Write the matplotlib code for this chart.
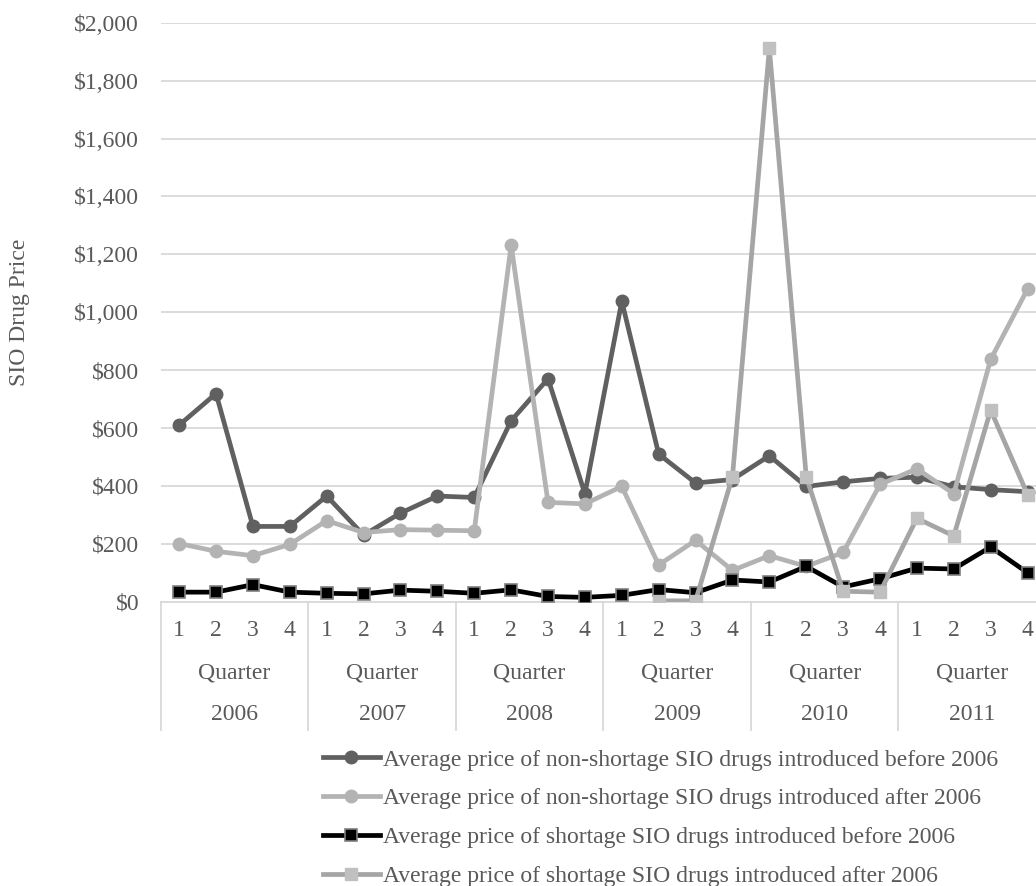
import matplotlib
matplotlib.use("Agg")
import matplotlib.pyplot as plt
from matplotlib.ticker import FuncFormatter, MultipleLocator
from matplotlib.transforms import blended_transform_factory
import numpy as np

years = ["2006", "2007", "2008", "2009", "2010", "2011"]
quarters = ["1", "2", "3", "4"]
level2_label = "Quarter"

nonshort_before = [610, 719, 260, 260, 365, 230, 306, 365, 360, 625, 770, 373,
                   1038, 510, 410, 422, 504, 398, 414, 426, 430, 397, 387, 380]
nonshort_after = [201, 174, 159, 198, 280, 239, 249, 247, 245, 1232, 343, 338,
                  398, 127, 212, 108, 159, 122, 170, 405, 459, 373, 837, 1080]
short_before = [33, 33, 59, 33, 29, 27, 40, 36, 29, 41, 18, 15,
                22, 42, 31, 75, 68, 122, 51, 79, 116, 113, 189, 100]
short_after = [None] * 13 + [3, 3, 432, 1911, 432, 36, 33, 288, 227, 662, 370]

labels = [
    "Average price of non-shortage SIO drugs introduced before 2006",
    "Average price of non-shortage SIO drugs introduced after 2006",
    "Average price of shortage SIO drugs introduced before 2006",
    "Average price of shortage SIO drugs introduced after 2006",
]

W, H = 1036, 886
fig = plt.figure(figsize=(W / 100, H / 100), dpi=100)
plt.rcParams['font.family'] = ['Liberation Serif', 'DejaVu Serif']
txt_color = "#595959"
fs = 17

left, right, top, bottom = 160.7, 1046.0, 22.7, 601.7
ax = fig.add_axes([left / W, 1 - bottom / H, (right - left) / W, (bottom - top) / H])

x = np.arange(len(nonshort_before))

def arr(v):
    return np.array([np.nan if a is None else a for a in v], dtype=float)

lw = 3.4
ax.plot(x, arr(nonshort_before), color="#606060", lw=lw, marker="o", ms=9,
        mfc="#606060", mec="#606060", label=labels[0], zorder=3, solid_joinstyle="round")
ax.plot(x, arr(nonshort_after), color="#B3B3B3", lw=lw, marker="o", ms=9,
        mfc="#B3B3B3", mec="#B3B3B3", label=labels[1], zorder=4, solid_joinstyle="round")
ax.plot(x, arr(short_before), color="#000000", lw=lw, marker="s", ms=8,
        mfc="#000000", mec="#7F7F7F", mew=1.2, label=labels[2], zorder=5, solid_joinstyle="round")
ax.plot(x, arr(short_after), color="#A5A5A5", lw=lw, marker="s", ms=8.5,
        mfc="#C0C0C0", mec="#C0C0C0", label=labels[3], zorder=6, solid_joinstyle="round")

ax.set_xlim(-0.5, len(x) - 0.5)
ax.set_ylim(0, 2000)
ax.yaxis.set_major_locator(MultipleLocator(200))
ax.yaxis.set_major_formatter(FuncFormatter(lambda v, p: "${:,.0f}".format(v)))
ax.grid(axis="y", color="#D9D9D9", lw=1.3, zorder=0)
ax.set_axisbelow(True)
for s in ["top", "right", "left"]:
    ax.spines[s].set_visible(False)
ax.spines["bottom"].set_color("#D9D9D9")
ax.spines["bottom"].set_linewidth(1.3)
ax.tick_params(axis="y", length=0, pad=15.5, labelsize=fs, labelcolor=txt_color)
ax.tick_params(axis="x", length=0, pad=0)
ax.set_xticks([])

ph = bottom - top
trans = blended_transform_factory(ax.transData, ax.transAxes)
y_q = -(630.7 - bottom) / ph
y_word = -(673 - bottom) / ph
y_year = -(715 - bottom) / ph
y_sep = -(730 - bottom) / ph
for i in range(len(x)):
    ax.text(i, y_q, quarters[i % 4], transform=trans, ha="center", va="center",
            fontsize=fs, color=txt_color, clip_on=False)
for k, yr in enumerate(years):
    c = 4 * k + 1.5
    ax.text(c, y_word, level2_label, transform=trans, ha="center", va="center",
            fontsize=fs, color=txt_color, clip_on=False)
    ax.text(c, y_year, yr, transform=trans, ha="center", va="center",
            fontsize=fs, color=txt_color, clip_on=False)
for k in range(len(years) + 1):
    xs = 4 * k - 0.5
    ax.plot([xs, xs], [0, y_sep], transform=trans, color="#D9D9D9", lw=1.3,
            clip_on=False, zorder=1)

fig.text(20 / W, 1 - 312 / H, "SIO Drug Price", rotation=90, ha="center", va="center",
         fontsize=fs, color=txt_color)

leg = fig.legend(loc="upper left", bbox_to_anchor=(323 / W, 1 - 749 / H), frameon=False,
                 fontsize=fs, handlelength=2.4, handletextpad=0.15, labelspacing=0.73,
                 borderpad=0, borderaxespad=0)
for t in leg.get_texts():
    t.set_color(txt_color)

fig.savefig("out.png", dpi=100)
